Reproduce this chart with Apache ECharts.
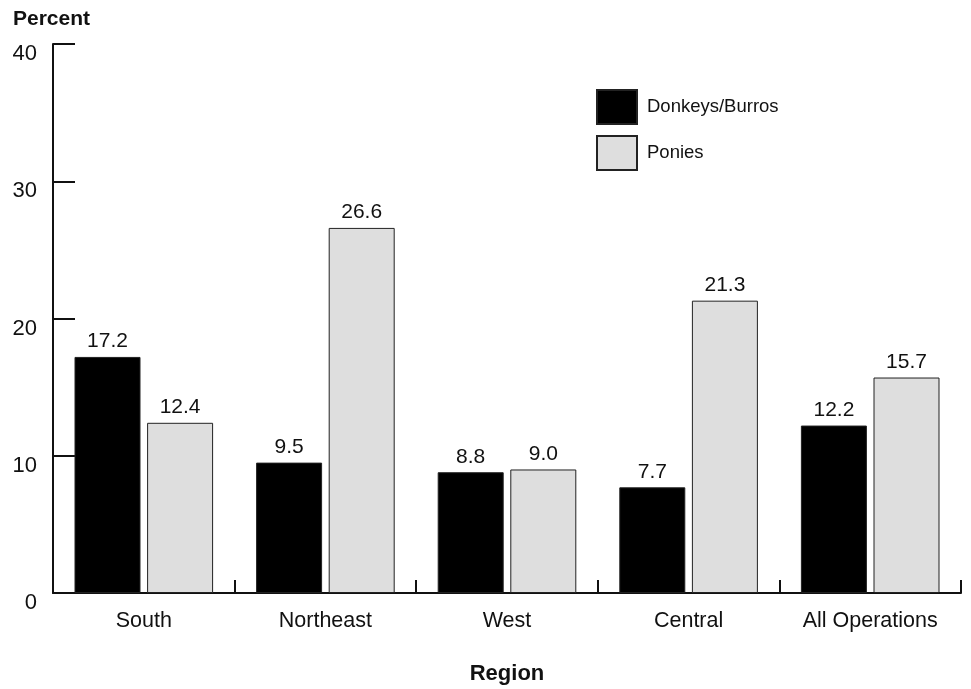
<!DOCTYPE html>
<html>
<head>
<meta charset="utf-8">
<script src="https://cdn.jsdelivr.net/npm/echarts@6/dist/echarts.min.js"></script>
<style>
html,body{margin:0;padding:0;background:#fff;}
#chart{width:971px;height:689px;}
</style>
</head>
<body>
<div id="chart"></div>
<script>
const categories = ['South', 'Northeast', 'West', 'Central', 'All Operations'];
const donkeys = [17.2, 9.5, 8.8, 7.7, 12.2];
const ponies = [12.4, 26.6, 9.0, 21.3, 15.7];
const seriesNames = ['Donkeys/Burros', 'Ponies'];
const yTicks = [0, 10, 20, 30, 40];

const FONT = '"Liberation Sans", Arial, sans-serif';
const chart = echarts.init(document.getElementById('chart'), null, {renderer: 'canvas'});
chart.setOption({
  animation: false,
  backgroundColor: '#ffffff',
  textStyle: {fontFamily: FONT, color: '#111'},
  title: {
    text: 'Percent',
    left: 8, top: 4,
    textStyle: {fontFamily: FONT, fontWeight: 'bold', fontSize: 21, color: '#111'}
  },
  legend: {
    orient: 'vertical',
    left: 591, top: 84,
    itemWidth: 40, itemHeight: 34, itemGap: 10,
    icon: 'rect',
    textStyle: {fontFamily: FONT, fontSize: 18.5, color: '#111', padding: [0, 0, 0, 5]},
    data: seriesNames
  },
  grid: {left: 53, right: 10, top: 44, bottom: 96, containLabel: false, outerBoundsMode: 'none'},
  xAxis: {
    type: 'category',
    data: categories,
    name: 'Region',
    nameLocation: 'middle',
    nameGap: 70,
    nameTextStyle: {fontFamily: FONT, fontWeight: 'bold', fontSize: 22, color: '#111'},
    axisLine: {lineStyle: {color: '#111', width: 2}},
    axisTick: {show: true, inside: true, length: 13, lineStyle: {color: '#111', width: 2}},
    axisLabel: {fontFamily: FONT, fontSize: 21.5, color: '#111', margin: 17}
  },
  yAxis: {
    type: 'value',
    min: yTicks[0], max: yTicks[yTicks.length - 1], interval: 10,
    splitLine: {show: false},
    axisLine: {show: true, lineStyle: {color: '#111', width: 2}},
    axisTick: {show: true, inside: true, length: 22, lineStyle: {color: '#111', width: 2}},
    axisLabel: {fontFamily: FONT, fontSize: 22, color: '#111', margin: 16, verticalAlign: 'top', lineHeight: 20}
  },
  series: [
    {
      name: seriesNames[0], type: 'bar', data: donkeys,
      barWidth: 66, barGap: '10%',
      itemStyle: {color: '#000000', borderColor: '#222', borderWidth: 1},
      label: {show: true, position: 'top', distance: 5, fontFamily: FONT, fontSize: 21, color: '#111',
        formatter: p => p.value.toFixed(1)}
    },
    {
      name: seriesNames[1], type: 'bar', data: ponies,
      barWidth: 66, barGap: '10%',
      itemStyle: {color: '#dedede', borderColor: '#222', borderWidth: 1},
      label: {show: true, position: 'top', distance: 5, fontFamily: FONT, fontSize: 21, color: '#111',
        formatter: p => p.value.toFixed(1)}
    }
  ]
});
</script>
</body>
</html>
